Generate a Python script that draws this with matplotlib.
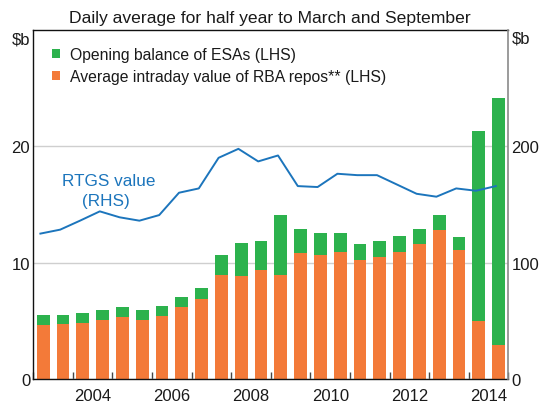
import matplotlib
matplotlib.use("Agg")
import matplotlib.pyplot as plt
from matplotlib.patches import Patch
import numpy as np

plt.rcParams['font.family'] = ['Liberation Sans', 'DejaVu Sans']

# ---- data ----
periods = ["Mar-03", "Sep-03", "Mar-04", "Sep-04", "Mar-05", "Sep-05",
           "Mar-06", "Sep-06", "Mar-07", "Sep-07", "Mar-08", "Sep-08",
           "Mar-09", "Sep-09", "Mar-10", "Sep-10", "Mar-11", "Sep-11",
           "Mar-12", "Sep-12", "Mar-13", "Sep-13", "Mar-14", "Sep-14"]
repos = [4.63, 4.71, 4.83, 5.03, 5.34, 5.06, 5.37, 6.20, 6.88, 8.97, 8.85, 9.34,
         8.97, 10.83, 10.66, 10.88, 10.20, 10.48, 10.91, 11.62, 12.82, 11.05, 4.97, 2.94]
esa = [0.85, 0.83, 0.85, 0.88, 0.86, 0.83, 0.86, 0.85, 0.92, 1.66, 2.80, 2.49,
       5.08, 2.02, 1.85, 1.63, 1.42, 1.37, 1.37, 1.23, 1.23, 1.17, 16.31, 21.23]
rtgs = [124.9, 128.3, 136.0, 144.0, 138.9, 136.0, 140.8, 160.0, 163.7, 190.0, 197.7, 186.9,
        192.0, 165.7, 164.9, 176.3, 175.1, 175.1, 167.1, 159.1, 156.6, 163.7, 161.7, 165.7]
year_labels = ["2004", "2006", "2008", "2010", "2012", "2014"]
left_ticks = [0, 10, 20]
right_ticks = [0, 100, 200]
legend_labels = ["Opening balance of ESAs (LHS)", "Average intraday value of RBA repos** (LHS)"]

# ---- styles ----
GREEN = '#2cb24d'
ORANGE = '#f37a39'
BLUE = '#1c75bc'
GRID = '#cfcfcf'
TXT = '#1a1a1a'

def period_pos(p):
    m, y = p.split('-')
    return 2000 + int(y) + (0.25 if m == 'Mar' else 0.75)

x = np.array([period_pos(p) for p in periods])
repos = np.array(repos)
esa = np.array(esa)

fig = plt.figure(figsize=(5.5, 4.06), dpi=100)
ax = fig.add_axes([0.0605, 0.064, 0.864, 0.8603])

ax.bar(x, repos, width=0.32, color=ORANGE, zorder=2)
ax.bar(x, esa, width=0.32, bottom=repos, color=GREEN, zorder=2)

ax.set_xlim(2003, 2015)
ax.set_ylim(0, 30)
ax.set_yticks(left_ticks)
ax.set_yticklabels([str(t) for t in left_ticks])
ax.yaxis.grid(True, color=GRID, lw=1)
ax.set_axisbelow(True)
ax.tick_params(axis='y', length=0, pad=2.2, labelsize=12, colors=TXT)

ax.set_xticks(np.arange(2003, 2016))
ax.set_xticklabels([])
ax.tick_params(axis='x', which='major', direction='in', length=5, width=1, color='#444444')
ax.set_xticks([int(l) + 0.5 for l in year_labels], minor=True)
ax.set_xticklabels(year_labels, minor=True)
ax.tick_params(axis='x', which='minor', length=0, pad=6.5, labelsize=12, colors=TXT)

for s in ['top', 'left', 'bottom']:
    ax.spines[s].set_color('#111111')
    ax.spines[s].set_linewidth(1)
ax.spines['right'].set_visible(False)

ax2 = ax.twinx()
ax2.plot(x - 0.07, rtgs, color=BLUE, lw=1.4, zorder=3)
ax2.set_ylim(0, 300)
ax2.set_yticks(right_ticks)
ax2.set_yticklabels([str(t) for t in right_ticks])
ax2.tick_params(axis='y', length=0, pad=2.2, labelsize=12, colors=TXT)
for s in ['top', 'left', 'bottom']:
    ax2.spines[s].set_visible(False)
ax2.spines['right'].set_color('#8a8a8a')
ax2.spines['right'].set_linewidth(1.2)

ax2.text(2004.91, 170.3, "RTGS value", color=BLUE, fontsize=12.3, ha='center', va='center')
ax2.text(2004.83, 153.1, "(RHS)", color=BLUE, fontsize=12.3, ha='center', va='center')

handles = [Patch(facecolor=GREEN, edgecolor='none'), Patch(facecolor=ORANGE, edgecolor='none')]
ax2.legend(handles, legend_labels, loc='upper left', bbox_to_anchor=(0.0387, 0.950),
           frameon=False, fontsize=11.3, handlelength=0.52, handleheight=0.52,
           handletextpad=0.64, labelspacing=0.45, borderaxespad=0, borderpad=0,
           labelcolor=TXT)

fig.text(0.491, 1 - 22.7 / 406, "Daily average for half year to March and September",
         ha='center', va='baseline', fontsize=12.6, color=TXT)
fig.text(30 / 550, 1 - 40 / 406, "$b", ha='right', va='center', fontsize=12, color=TXT)
fig.text(511.5 / 550, 1 - 39 / 406, "$b", ha='left', va='center', fontsize=12, color=TXT)

fig.savefig("out.png", dpi=100)
